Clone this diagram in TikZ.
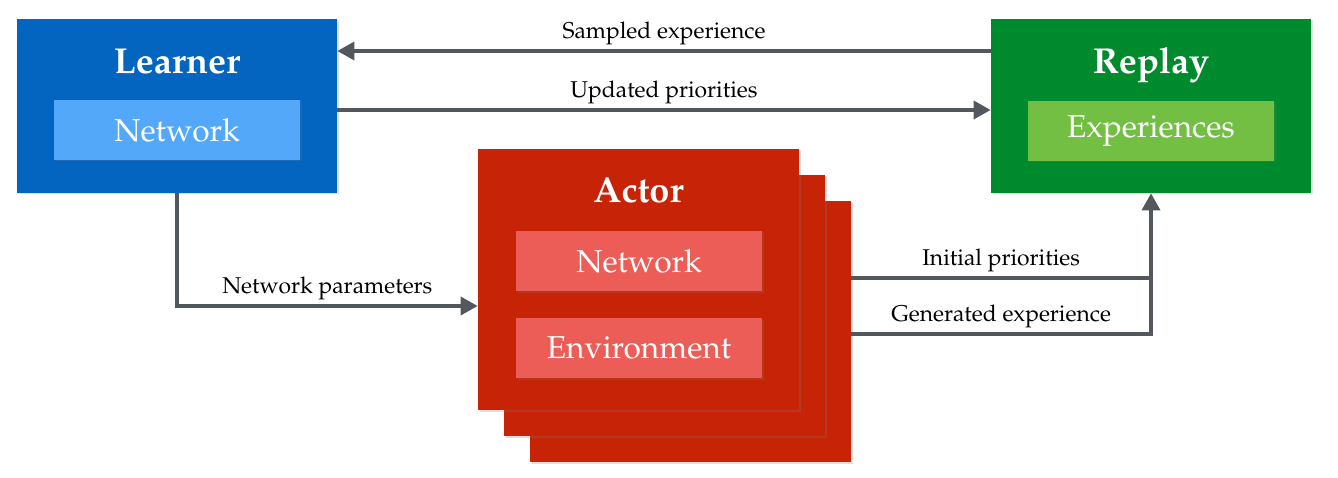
\documentclass[tikz,border=0pt]{standalone}
\usepackage[T1]{fontenc}
\usepackage{mathpazo}
\usepackage{tikz}
\usetikzlibrary{arrows.meta,positioning,calc,shadows}
\definecolor{LearnBlue}{HTML}{0365C0}
\definecolor{NetBlue}{HTML}{53A8FA}
\definecolor{ReplayGreen}{HTML}{008A2E}
\definecolor{ExpGreen}{HTML}{72BF44}
\definecolor{ActRed}{HTML}{C72306}
\definecolor{ActLight}{HTML}{EC5D57}
\definecolor{Wire}{HTML}{53575E}

\begin{document}
\begin{tikzpicture}[
      block/.style={rectangle,minimum width=6.4cm,minimum height=3.48cm,
        drop shadow={shadow xshift=0.03cm,shadow yshift=-0.03cm,opacity=0.25}},
      actorbox/.style={block,fill=ActRed,minimum width=6.42cm,minimum height=5.22cm},
      inner/.style={rectangle,minimum width=4.92cm,minimum height=1.2cm,text=white,
        font=\fontsize{18}{22}\selectfont,
        drop shadow={shadow xshift=0.03cm,shadow yshift=-0.03cm,opacity=0.2}},
      title/.style={anchor=base,text=white,font=\fontsize{20.5}{24}\selectfont\bfseries},
      wire/.style={Wire,line width=2pt},
      arr/.style={wire,-{Triangle[width=0.36cm,length=0.34cm]}},
      lbl/.style={above,inner sep=2.5pt,text=black,font=\fontsize{13}{15}\selectfont}
    ]
      \useasboundingbox (0,0) rectangle (26.76,-9.56);
      % learner and replay
      \node[block,fill=LearnBlue] (learner) at (3.54,-2.12) {};
      \node[title] (learnertitle) at (3.54,-1.48) {Learner};
      \node[inner,fill=NetBlue] (learnernet) at (3.54,-2.6) {Network};
      \node[block,fill=ReplayGreen] (replay) at (23.02,-2.12) {};
      \node[title] (replaytitle) at (23.02,-1.48) {Replay};
      \node[inner,fill=ExpGreen] (experiences) at (23.02,-2.62) {Experiences};
      % stack of actors
      \node[actorbox] (actorc) at (13.81,-6.63) {};
      \node[actorbox] (actorb) at (13.29,-6.11) {};
      \node[actorbox] (actor) at (12.77,-5.59) {};
      \node[title] (actortitle) at (12.77,-4.06) {Actor};
      \node[inner,fill=ActLight] (actornet) at (12.78,-5.22) {Network};
      \node[inner,fill=ActLight] (actorenv) at (12.78,-6.96) {Environment};
      % connectors
      \draw[arr] ([yshift=1.1cm]replay.west) -- node[lbl]{Sampled experience}
        ([yshift=1.1cm]learner.west -| learner.east);
      \draw[arr] ([yshift=-0.08cm]learner.east) -- node[lbl]{Updated priorities}
        ([yshift=-0.08cm]learner.east -| replay.west);
      \draw[arr] (learner.south) |- node[lbl,pos=0.75]{Network parameters}
        ([yshift=-0.53cm]actor.west);
      \coordinate (initstart) at ([yshift=1.07cm]actorc.east);
      \draw[wire] (initstart) -- node[lbl]{Initial priorities}
        (initstart -| replay.south);
      \draw[arr] ([yshift=-0.05cm]actorc.east) -| node[lbl,pos=0.25]{Generated experience}
        (replay.south);
    \end{tikzpicture}
\end{document}
